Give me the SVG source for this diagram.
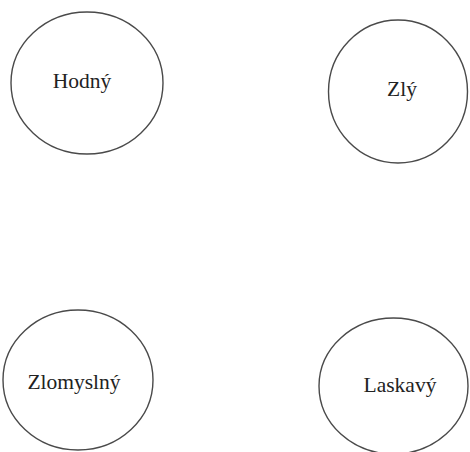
<svg xmlns="http://www.w3.org/2000/svg" width="470" height="452" viewBox="0 0 470 452">
  <style>
    .node ellipse { fill: #ffffff; stroke: #4a4a4a; stroke-width: 1.4; }
    .node text { font-family: "Liberation Serif", "Times New Roman", serif; font-size: 21.5px; fill: #222222; text-anchor: middle; }
  </style>
  <rect width="470" height="452" fill="#ffffff"/>
  <g id="connectors"></g>
  <g id="hodny" class="node">
    <ellipse cx="87" cy="83" rx="76" ry="71"/>
    <text x="82" y="88">Hodný</text>
  </g>
  <g id="zly" class="node">
    <ellipse cx="398" cy="91.5" rx="69.5" ry="71.5"/>
    <text x="402" y="96">Zlý</text>
  </g>
  <g id="zlomyslny" class="node">
    <ellipse cx="78" cy="380" rx="75" ry="70"/>
    <text x="74" y="389">Zlomyslný</text>
  </g>
  <g id="laskavy" class="node">
    <ellipse cx="393.5" cy="386" rx="74.5" ry="68"/>
    <text x="400" y="392">Laskavý</text>
  </g>
</svg>
